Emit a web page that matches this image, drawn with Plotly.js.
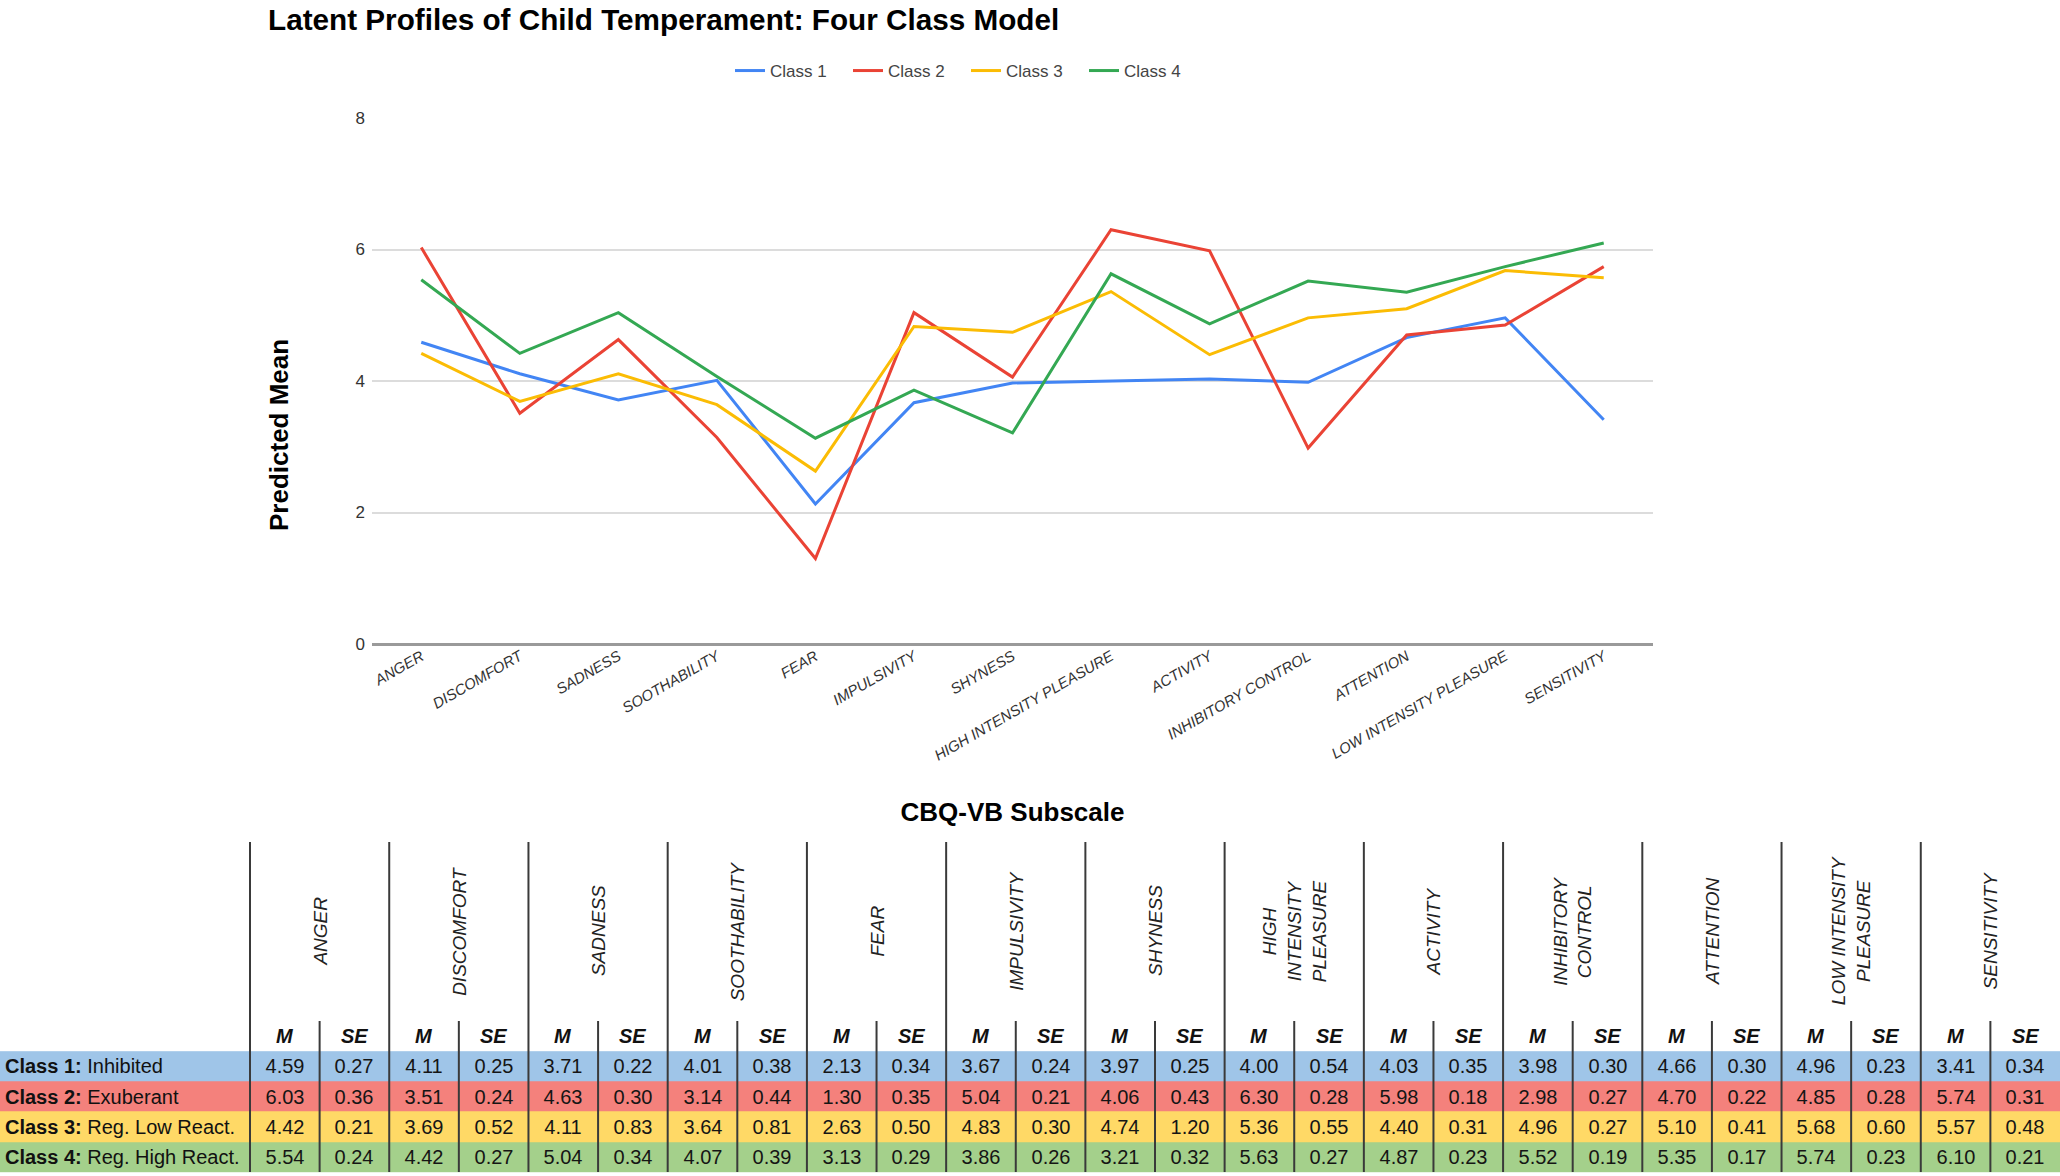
<!DOCTYPE html>
<html>
<head>
<meta charset="utf-8">
<script src="https://cdn.plot.ly/plotly-3.0.1.min.js"></script>
<style>
  html, body { margin: 0; padding: 0; background: #ffffff; }
  #chart { width: 2060px; height: 1176px; }
</style>
</head>
<body>
<div id="chart"></div>
<script>
// ---------------- DATA ----------------
const categories = ['ANGER', 'DISCOMFORT', 'SADNESS', 'SOOTHABILITY', 'FEAR', 'IMPULSIVITY', 'SHYNESS',
  'HIGH INTENSITY PLEASURE', 'ACTIVITY', 'INHIBITORY CONTROL', 'ATTENTION', 'LOW INTENSITY PLEASURE', 'SENSITIVITY'];
const tableHeaders = ['ANGER', 'DISCOMFORT', 'SADNESS', 'SOOTHABILITY', 'FEAR', 'IMPULSIVITY', 'SHYNESS',
  'HIGH<br>INTENSITY<br>PLEASURE', 'ACTIVITY', 'INHIBITORY<br>CONTROL', 'ATTENTION', 'LOW INTENSITY<br>PLEASURE', 'SENSITIVITY'];
const classNames = ['Class 1', 'Class 2', 'Class 3', 'Class 4'];
const classLabels = ['Inhibited', 'Exuberant', 'Reg. Low React.', 'Reg. High React.'];
const statLabels = ['M', 'SE'];

const class1M  = [4.59, 4.11, 3.71, 4.01, 2.13, 3.67, 3.97, 4.00, 4.03, 3.98, 4.66, 4.96, 3.41];
const class1SE = [0.27, 0.25, 0.22, 0.38, 0.34, 0.24, 0.25, 0.54, 0.35, 0.30, 0.30, 0.23, 0.34];
const class2M  = [6.03, 3.51, 4.63, 3.14, 1.30, 5.04, 4.06, 6.30, 5.98, 2.98, 4.70, 4.85, 5.74];
const class2SE = [0.36, 0.24, 0.30, 0.44, 0.35, 0.21, 0.43, 0.28, 0.18, 0.27, 0.22, 0.28, 0.31];
const class3M  = [4.42, 3.69, 4.11, 3.64, 2.63, 4.83, 4.74, 5.36, 4.40, 4.96, 5.10, 5.68, 5.57];
const class3SE = [0.21, 0.52, 0.83, 0.81, 0.50, 0.30, 1.20, 0.55, 0.31, 0.27, 0.41, 0.60, 0.48];
const class4M  = [5.54, 4.42, 5.04, 4.07, 3.13, 3.86, 3.21, 5.63, 4.87, 5.52, 5.35, 5.74, 6.10];
const class4SE = [0.24, 0.27, 0.34, 0.39, 0.29, 0.26, 0.32, 0.27, 0.23, 0.19, 0.17, 0.23, 0.21];

const yTickVals = [0, 2, 4, 6, 8];

// ---------------- STYLE / LAYOUT CONSTANTS ----------------
const W = 2060, H = 1176;
const FONT = '"Liberation Sans", Arial, Helvetica, sans-serif';
const lineColors = ['#4285F4', '#EA4335', '#FBBC04', '#34A853'];
const rowColors = ['#9fc5e8', '#f4817c', '#ffd966', '#a4d08b'];

const means = [class1M, class2M, class3M, class4M];
const ses = [class1SE, class2SE, class3SE, class4SE];

// chart plot area (pixels)
const plotL = 372, plotR = 1653, plotTop = 118, plotBottom = 644;
// table geometry (pixels)
const labelColPx = 250;
const nCells = categories.length * 2;
const cellPx = (W - labelColPx) / nCells;
const labelUnits = labelColPx / cellPx;
const tableTopPx = 842, tableBottomPx = 1172, rowPx = 30.2;
const y2px = px => 3.5 - (tableBottomPx - px) / rowPx;

// ---------------- TRACES ----------------
const traces = [];
for (let i = 0; i < 4; i++) {
  traces.push({
    type: 'scatter', mode: 'lines',
    x: categories, y: means[i], name: classNames[i],
    line: { color: lineColors[i], width: 3 },
    xaxis: 'x', yaxis: 'y',
    hoverinfo: 'x+y+name'
  });
}

// table as heatmap
const xEdges = [-0.5 - labelUnits];
for (let j = 0; j <= nCells; j++) xEdges.push(j - 0.5);
const z = [], txt = [];
for (let r = 0; r < 4; r++) {
  const zr = [r], tr = [''];
  for (let g = 0; g < categories.length; g++) {
    zr.push(r, r);
    tr.push(means[r][g].toFixed(2), ses[r][g].toFixed(2));
  }
  z.push(zr); txt.push(tr);
}
traces.push({
  type: 'heatmap', x: xEdges, y: [0, 1, 2, 3], z: z, text: txt,
  texttemplate: '%{text}',
  textfont: { family: FONT, size: 20, color: '#151515' },
  zmin: 0, zmax: 3,
  colorscale: [[0, rowColors[0]], [0.1667, rowColors[0]], [0.1667, rowColors[1]], [0.5, rowColors[1]],
               [0.5, rowColors[2]], [0.8333, rowColors[2]], [0.8333, rowColors[3]], [1, rowColors[3]]],
  showscale: false, hoverinfo: 'skip', xgap: 0, ygap: 0,
  xaxis: 'x2', yaxis: 'y2', showlegend: false
});

// ---------------- SHAPES ----------------
const shapes = [];
for (let g = 0; g < categories.length; g++) {
  shapes.push({ type: 'line', xref: 'x2', yref: 'y2', x0: 2 * g - 0.5, x1: 2 * g - 0.5,
    y0: y2px(tableTopPx), y1: 3.5, line: { color: '#3a3a3a', width: 2 }, layer: 'above' });
  shapes.push({ type: 'line', xref: 'x2', yref: 'y2', x0: 2 * g + 0.5, x1: 2 * g + 0.5,
    y0: -1.5, y1: 3.5, line: { color: '#3a3a3a', width: 2 }, layer: 'above' });
}

// ---------------- ANNOTATIONS ----------------
const annotations = [];
annotations.push({
  text: '<b>Predicted Mean</b>', xref: 'paper', yref: 'paper',
  x: 279 / W, y: 1 - 435 / H, xanchor: 'center', yanchor: 'middle',
  textangle: -90, showarrow: false, font: { family: FONT, size: 26, color: '#000' }
});
for (let r = 0; r < 4; r++) {
  annotations.push({
    text: '<b>' + classNames[r] + ':</b> ' + classLabels[r], xref: 'paper', yref: 'y2',
    x: 3 / W, y: r, xanchor: 'left', yanchor: 'middle', showarrow: false,
    font: { family: FONT, size: 20, color: '#111' }
  });
}
for (let g = 0; g < categories.length; g++) {
  for (let s = 0; s < 2; s++) {
    annotations.push({
      text: '<b><i>' + statLabels[s] + '</i></b>', xref: 'x2', yref: 'y2',
      x: 2 * g + s, y: -1, xanchor: 'center', yanchor: 'middle', showarrow: false,
      font: { family: FONT, size: 20, color: '#111' }
    });
  }
  annotations.push({
    text: '<i>' + tableHeaders[g] + '</i>', xref: 'x2', yref: 'y2',
    x: 2 * g + 0.5, y: y2px(931), xanchor: 'center', yanchor: 'middle', showarrow: false,
    textangle: -90, font: { family: FONT, size: 19, color: '#222' }
  });
}

// ---------------- LAYOUT ----------------
const layout = {
  width: W, height: H,
  margin: { l: 0, r: 0, t: 0, b: 0, pad: 0 },
  paper_bgcolor: '#ffffff', plot_bgcolor: '#ffffff',
  font: { family: FONT, color: '#333' },
  title: {
    text: '<b>Latent Profiles of Child Temperament: Four Class Model</b>',
    xref: 'paper', yref: 'paper', x: 268 / W, xanchor: 'left',
    y: 1 - 20 / H, yanchor: 'middle',
    font: { family: FONT, size: 29.7, color: '#000' }
  },
  showlegend: true,
  legend: {
    orientation: 'h', xref: 'paper', yref: 'paper',
    x: 966 / W, xanchor: 'center', y: 1 - 71 / H, yanchor: 'middle',
    font: { family: FONT, size: 17, color: '#444' },
    bgcolor: 'rgba(0,0,0,0)', itemwidth: 30,
    entrywidth: 73, entrywidthmode: 'pixels'
  },
  xaxis: {
    domain: [plotL / W, plotR / W], type: 'category', range: [-0.5, categories.length - 0.5],
    tickangle: -30, showgrid: false, zeroline: false, showline: false, ticks: '',
    tickfont: { family: FONT, size: 15, color: '#333', style: 'italic' },
    title: { text: '<b>CBQ-VB Subscale</b>', standoff: 40, font: { family: FONT, size: 26, color: '#000' } },
    anchor: 'y', fixedrange: true
  },
  yaxis: {
    domain: [1 - plotBottom / H, 1 - plotTop / H], range: [0, 8], tickvals: yTickVals,
    showgrid: true, gridcolor: '#dcdcdc', gridwidth: 2,
    zeroline: true, zerolinecolor: '#9a9a9a', zerolinewidth: 3,
    showline: false, ticks: '', ticklabelstandoff: 6,
    tickfont: { family: FONT, size: 17, color: '#333' },
    anchor: 'x', fixedrange: true
  },
  xaxis2: {
    domain: [0, 1], range: [-0.5 - labelUnits, nCells - 0.5], visible: false,
    anchor: 'y2', fixedrange: true
  },
  yaxis2: {
    domain: [0, 1 - tableTopPx / H], range: [3.5 + (H - tableBottomPx) / rowPx, y2px(tableTopPx)],
    visible: false, anchor: 'x2', fixedrange: true
  },
  shapes: shapes,
  annotations: annotations
};

Plotly.newPlot('chart', traces, layout, { displayModeBar: false, staticPlot: true });
</script>
</body>
</html>
